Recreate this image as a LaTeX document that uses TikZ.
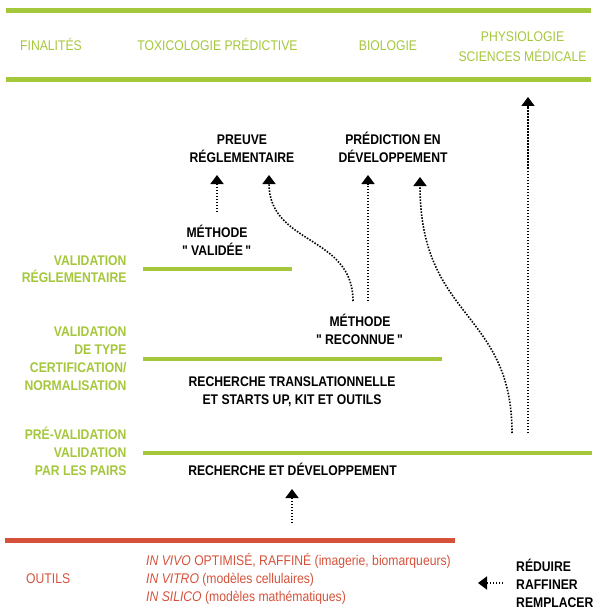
\documentclass[tikz,border=0pt]{standalone}
\usepackage{fontspec}
\setmainfont{Liberation Sans}[FakeStretch=0.87]
\usetikzlibrary{arrows.meta}
\definecolor{vert}{HTML}{A5C73C}
\definecolor{rouge}{HTML}{D6513A}
\begin{document}
\begin{tikzpicture}[x=1pt,y=-1pt,
  txt/.style={font=\fontsize{14}{18}\selectfont, inner sep=0pt, anchor=base},
  hd/.style={txt, text=vert, align=center},
  bl/.style={txt, font=\fontsize{14}{18}\selectfont\bfseries, align=center},
  lab/.style={txt, font=\fontsize{14}{17.7}\selectfont\bfseries, text=vert, align=right, anchor=base east},
  gbar/.style={draw=vert, line width=4.5pt},
  rbar/.style={draw=rouge, line width=5pt},
  dots/.style={line width=1.6pt, dash pattern=on 1.5pt off 1.5pt, -{Triangle[width=13pt,length=9pt]}},
]
\useasboundingbox (0,0) rectangle (597,615);
% header
\draw[gbar] (6,10.5) -- (591,10.5);
\draw[gbar] (6,79.5) -- (591,79.5);
\node[hd, anchor=base west] (fin) at (20,51) {FINALITÉS};
\node[hd] (tox) at (217.5,51) {TOXICOLOGIE PRÉDICTIVE};
\node[hd] (bio) at (388,51) {BIOLOGIE};
\node[hd] (phy) at (522.5,61.5) {PHYSIOLOGIE\\[2pt]SCIENCES MÉDICALE};
% level labels
\node[lab] (l1) at (126.7,282.7) {VALIDATION\\RÉGLEMENTAIRE};
\node[lab] (l2) at (126.7,390) {VALIDATION\\DE TYPE\\CERTIFICATION/\\NORMALISATION};
\node[lab] (l3) at (126.7,475) {PRÉ-VALIDATION\\VALIDATION\\PAR LES PAIRS};
% bars
\draw[gbar, line width=4pt] (143,269) -- (292,269);
\draw[gbar, line width=4pt] (143,358.7) -- (442,358.7);
\draw[gbar, line width=4pt] (143,452.7) -- (592,452.7);
\draw[rbar] (5,540.5) -- (455,540.5);
% black texts
\node[bl] (preuve) at (242,162) {PREUVE\\RÉGLEMENTAIRE};
\node[bl] (pred) at (393,162) {PRÉDICTION EN\\DÉVELOPPEMENT};
\node[bl] (valid) at (217,255) {MÉTHODE\\\textquotedbl\,VALIDÉE\,\textquotedbl};
\node[bl] (recon) at (360,344.5) {MÉTHODE\\\textquotedbl\,RECONNUE\,\textquotedbl};
\node[bl] (transl) at (292,404.5) {RECHERCHE TRANSLATIONNELLE\\ET STARTS UP, KIT ET OUTILS};
\node[bl] (rd) at (292.5,475) {RECHERCHE ET DÉVELOPPEMENT};
% tools
\node[txt, text=rouge, anchor=base west] (outils) at (26,583) {OUTILS};
\node[txt, text=rouge, anchor=base west, align=left] (list) at (146,601)
  {\textit{IN VIVO} OPTIMISÉ, RAFFINÉ (imagerie, biomarqueurs)\\
   \textit{IN VITRO} (modèles cellulaires)\\
   \textit{IN SILICO} (modèles mathématiques)};
\node[bl, anchor=base west, align=left] (rrr) at (516,607) {RÉDUIRE\\RAFFINER\\REMPLACER};
% arrow end points
\coordinate (a1s) at (217,212); \coordinate (a1e) at (217,175);
\coordinate (a2s) at (353,301); \coordinate (a2e) at (269,175);
\coordinate (a3s) at (368,301); \coordinate (a3e) at (368,175);
\coordinate (a4s) at (512,433); \coordinate (a4e) at (420,177);
\coordinate (a5s) at (528,433); \coordinate (a5e) at (528,97);
\coordinate (a6s) at (292,523); \coordinate (a6e) at (292,489);
\coordinate (a7s) at (503,583); \coordinate (a7e) at (478,583);
\draw[dots] (a1s) -- (a1e);
\draw[dots] (a2s) .. controls (353,235) and (269,245) .. (a2e);
\draw[dots] (a3s) -- (a3e);
\draw[dots] (a4s) .. controls (512,310) and (420,320) .. (a4e);
\draw[dots] (a5s) -- (a5e);
\draw[dots] (a6s) -- (a6e);
\draw[dots] (a7s) -- (a7e);
\end{tikzpicture}
\end{document}
